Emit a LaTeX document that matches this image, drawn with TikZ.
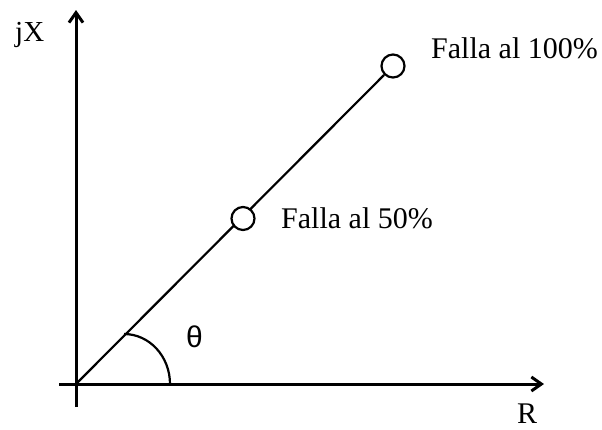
\documentclass[tikz,border=0pt]{standalone}
\usepackage{fontspec}
\setmainfont{Liberation Serif}
\newfontfamily\thetafont{Liberation Sans}
\usetikzlibrary{arrows.meta}
\begin{document}
\begin{tikzpicture}[x=1pt,y=-1pt,
  axis/.style={line width=3pt,-{Straight Barb[length=10pt,width=14pt]}},
  thin line/.style={line width=2.2pt},
  fault/.style={circle,draw,line width=2.2pt,fill=white,minimum size=23pt,inner sep=0pt},
  lbl/.style={anchor=base west,inner sep=0pt,font=\fontsize{30}{34}\selectfont}]
\useasboundingbox (0,0) rectangle (602,429);
\coordinate (O) at (76,384);
\coordinate (xs) at (59,384);
\coordinate (xe) at (544,384);
\coordinate (ys) at (76,407);
\coordinate (ye) at (76,10);
\draw[axis] (xs) -- (xe);
\draw[axis] (ys) -- (ye);
\node[fault] (p100) at (393,66) {};
\draw[thin line] (O) -- (p100);
\node[fault] (p50) at (243,218.5) {};
\coordinate (a1) at (124,334);
\draw[thin line] (a1) arc[start angle=-90,end angle=0,x radius=46,y radius=50];
\node[lbl,font=\fontsize{29}{32}\selectfont] (jx) at (15,41) {jX};
\node[lbl] (r) at (517,423) {R};
\node[lbl] (l100) at (431,58) {Falla al 100\%};
\node[lbl] (l50) at (281,228) {Falla al 50\%};
\node[lbl,font=\fontsize{30}{34}\selectfont\thetafont] (th) at (186,347) {θ};
\end{tikzpicture}
\end{document}
